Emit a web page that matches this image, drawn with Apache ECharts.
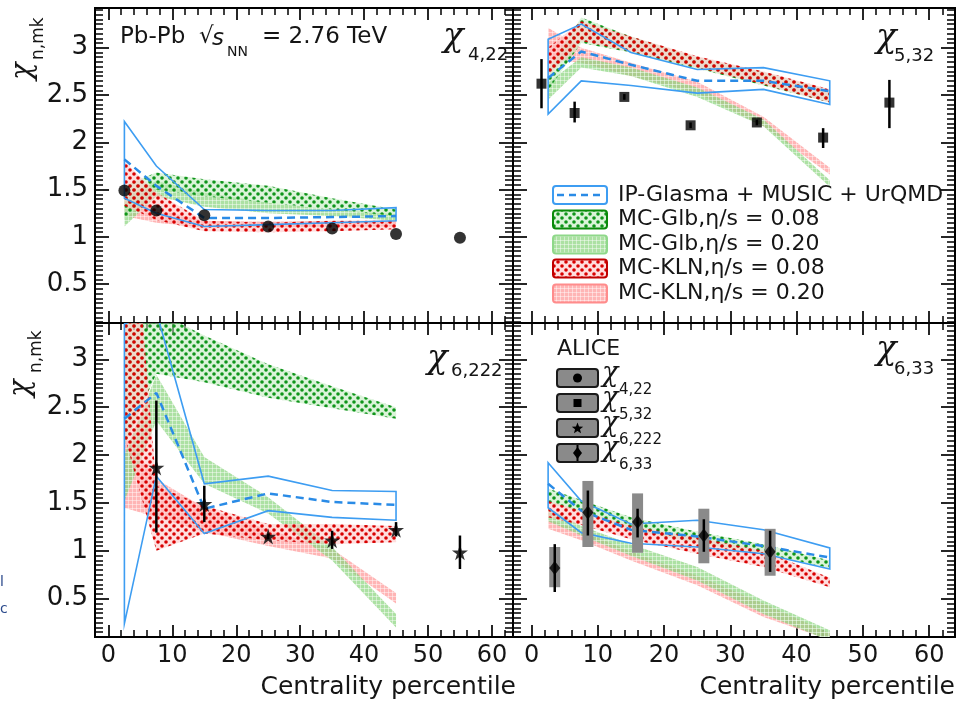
<!DOCTYPE html>
<html><head><meta charset="utf-8">
<script src="https://cdn.jsdelivr.net/npm/echarts@6/dist/echarts.min.js"></script>
<style>html,body{margin:0;padding:0;background:#fff}#c{width:961px;height:705px}</style>
</head><body><div id="c"></div>
<script>
// ---------------- DATA ----------------
const xTickLabels = [0, 10, 20, 30, 40, 50, 60];
const yTickLabels = [0.5, 1, 1.5, 2, 2.5, 3];
const bandX = [2.5, 7.5, 15, 25, 35, 45];

// chi_4,22
const p1_x = [2.5, 7.5, 15, 25, 35, 45, 55];
const p1_y = [1.49, 1.28, 1.23, 1.11, 1.09, 1.03, 0.99];
const p1_ipUp = [2.22, 1.75, 1.29, 1.28, 1.28, 1.31];
const p1_ipLo = [1.41, 1.25, 1.11, 1.13, 1.15, 1.17];
const p1_ipMid = [1.82, 1.54, 1.20, 1.20, 1.21, 1.22];
const p1_glb08Lo = [1.18, 1.50, 1.43, 1.36, 1.29, 1.22];
const p1_glb08Hi = [1.54, 1.68, 1.61, 1.54, 1.41, 1.29];
const p1_glb20Lo = [1.11, 1.43, 1.32, 1.25, 1.22, 1.17];
const p1_glb20Hi = [1.43, 1.59, 1.47, 1.36, 1.29, 1.24];
const p1_kln08Lo = [1.33, 1.18, 1.06, 1.05, 1.06, 1.08];
const p1_kln08Hi = [1.80, 1.47, 1.17, 1.15, 1.17, 1.17];
const p1_kln20Lo = [1.22, 1.15, 1.10, 1.10, 1.11, 1.11];
const p1_kln20Hi = [1.47, 1.29, 1.17, 1.16, 1.17, 1.17];

// chi_5,32
const p2_x = [1.5, 6.5, 14, 24, 34, 44, 54];
const p2_y = [2.62, 2.31, 2.48, 2.18, 2.21, 2.05, 2.42];
const p2_lo = [2.36, 2.21, 2.45, 2.15, 2.18, 1.94, 2.15];
const p2_hi = [2.88, 2.43, 2.51, 2.21, 2.24, 2.15, 2.66];
const p2_ipUp = [3.09, 3.25, 2.95, 2.77, 2.79, 2.65];
const p2_ipLo = [2.30, 2.65, 2.60, 2.52, 2.56, 2.40];
const p2_ipMid = [2.68, 2.96, 2.82, 2.65, 2.65, 2.54];
const p2_glb08Lo = [2.55, 3.05, 2.95, 2.78, 2.60, 2.42];
const p2_glb08Hi = [2.78, 3.32, 3.12, 2.90, 2.74, 2.55];
const p2_glb20Lo = [2.45, 2.79, 2.70, 2.48, 2.17, 1.53];
const p2_glb20Hi = [2.63, 2.90, 2.79, 2.58, 2.24, 1.60];
const p2_kln08Lo = [2.70, 3.07, 2.96, 2.79, 2.61, 2.42];
const p2_kln08Hi = [3.00, 3.28, 3.12, 2.91, 2.75, 2.56];
const p2_kln20Lo = [2.88, 2.84, 2.70, 2.52, 2.17, 1.66];
const p2_kln20Hi = [3.21, 3.00, 2.84, 2.64, 2.27, 1.73];

// chi_6,222
const p3_x = [7.5, 15, 25, 35, 45, 55];
const p3_y = [1.87, 1.49, 1.15, 1.11, 1.22, 0.985];
const p3_lo = [1.19, 1.30, 1.12, 1.02, 1.15, 0.81];
const p3_hi = [2.57, 1.68, 1.18, 1.21, 1.30, 1.16];
const p3_ipUp = [3.37, 3.50, 1.70, 1.78, 1.63, 1.62];
const p3_ipLo = [0.24, 1.78, 1.18, 1.42, 1.35, 1.32];
const p3_ipMid = [2.38, 2.65, 1.44, 1.60, 1.51, 1.48];
const p3_glb08Lo = [2.10, 2.85, 2.76, 2.60, 2.49, 2.38];
const p3_glb08Hi = [4.00, 3.50, 3.25, 2.95, 2.72, 2.50];
const p3_glb20Lo = [1.52, 2.36, 1.70, 1.39, 0.90, 0.20];
const p3_glb20Hi = [2.00, 2.84, 1.98, 1.56, 1.04, 0.34];
const p3_kln08Lo = [2.20, 1.00, 1.18, 1.11, 1.07, 1.09];
const p3_kln08Hi = [5.70, 1.68, 1.47, 1.28, 1.28, 1.26];
const p3_kln20Lo = [1.45, 1.35, 1.20, 1.05, 0.92, 0.45];
const p3_kln20Hi = [2.20, 1.75, 1.45, 1.22, 1.02, 0.56];

// chi_6,33
const p4_x = [3.5, 8.5, 16, 26, 36];
const p4_y = [0.82, 1.40, 1.30, 1.16, 0.99];
const p4_statLo = [0.57, 1.16, 1.14, 0.99, 0.78];
const p4_statHi = [1.07, 1.63, 1.44, 1.33, 1.21];
const p4_sysLo = [0.62, 1.04, 0.98, 0.87, 0.74];
const p4_sysHi = [1.04, 1.73, 1.60, 1.44, 1.23];
const p4_ipUp = [1.92, 1.52, 1.28, 1.32, 1.22, 1.03];
const p4_ipLo = [1.45, 1.19, 1.08, 1.04, 0.97, 0.81];
const p4_ipMid = [1.70, 1.42, 1.22, 1.15, 1.05, 0.93];
const p4_glb08Lo = [1.50, 1.40, 1.22, 1.08, 0.97, 0.82];
const p4_glb08Hi = [1.65, 1.53, 1.35, 1.20, 1.07, 0.90];
const p4_glb20Lo = [1.31, 1.16, 0.95, 0.69, 0.34, 0.06];
const p4_glb20Hi = [1.45, 1.26, 1.07, 0.83, 0.48, 0.17];
const p4_kln08Lo = [1.35, 1.27, 1.12, 0.97, 0.83, 0.62];
const p4_kln08Hi = [1.52, 1.42, 1.26, 1.14, 1.00, 0.72];
const p4_kln20Lo = [1.23, 1.11, 0.90, 0.64, 0.31, 0.07];
const p4_kln20Hi = [1.33, 1.21, 0.99, 0.74, 0.45, 0.14];

const legendLabels = ['IP-Glasma + MUSIC + UrQMD', 'MC-Glb,\u03b7/s = 0.08', 'MC-Glb,\u03b7/s = 0.20', 'MC-KLN,\u03b7/s = 0.08', 'MC-KLN,\u03b7/s = 0.20'];
const aliceLabels = ['4,22', '5,32', '6,222', '6,33'];

// ---------------- STYLE ----------------
const F = 'DejaVu Sans';
const CHI_FONT = 'italic 34px "DejaVu Serif"';
const BLUE = '#3d9df2', BLUED = '#2a8be6';
function pat(tile, bg, fn) {
  const c = document.createElement('canvas'); c.width = c.height = tile;
  const x = c.getContext('2d'); x.fillStyle = bg; x.fillRect(0, 0, tile, tile); fn(x, tile);
  return { image: c, repeat: 'repeat' };
}
function dots(col) { return (x) => { x.fillStyle = col; [[2, 2], [6, 6]].forEach(p => { x.beginPath(); x.arc(p[0], p[1], 1.8, 0, 7); x.fill(); }); }; }
function grid4(x, t) { x.fillStyle = 'rgba(255,255,255,0.45)'; x.fillRect(0, 0, t, 1); x.fillRect(0, 0, 1, t); }
const PAT = {
  glb08: pat(8, 'rgba(190,235,185,0.55)', dots('#0f951a')),
  kln08: pat(8, 'rgba(255,195,195,0.55)', dots('#d80000')),
  glb20: pat(4, 'rgba(140,214,128,0.72)', grid4),
  kln20: pat(4, 'rgba(255,150,150,0.7)', grid4)
};

const grids = [
  { left: 95, top: 8, width: 418, height: 315, xr: [-2.1, 63.3], yr: [0.09, 3.42], xl: false, yl: true },
  { left: 513, top: 8, width: 442, height: 315, xr: [-2.8, 63.9], yr: [0.09, 3.42], xl: false, yl: false },
  { left: 95, top: 323, width: 418, height: 314, xr: [-2.1, 63.3], yr: [0.10, 3.38], xl: true, yl: true },
  { left: 513, top: 323, width: 442, height: 314, xr: [-2.8, 63.9], yr: [0.10, 3.38], xl: true, yl: false }
];
const xMinor = []; for (let v = 2; v <= 62; v += 2) if (v % 10) xMinor.push(v);
const yMinorAll = []; for (let k = 2; k <= 68; k++) if (k % 10) yMinorAll.push(Math.round(k * 5) / 100);

const xAxes = [], yAxes = [];
grids.forEach((g, gi) => {
  const yMinor = yMinorAll.filter(v => v > g.yr[0] && v < g.yr[1]);
  const mk = (pos, vals, len, lab, fs, mg, w) => {
    const isY = pos === 'left' || pos === 'right';
    const ax = {
      type: 'value', gridIndex: gi, position: pos, min: isY ? g.yr[0] : g.xr[0], max: isY ? g.yr[1] : g.xr[1],
      axisLine: { show: true, onZero: false, lineStyle: { color: '#000', width: 2 } },
      axisTick: { show: true, inside: true, length: len, customValues: vals, lineStyle: { color: '#000', width: w } },
      axisLabel: { show: lab, fontFamily: F, fontSize: fs, color: '#151515', margin: mg },
      splitLine: { show: false }, axisPointer: { show: false }
    };
    if (lab) ax.axisLabel.customValues = vals;
    return ax;
  };
  // major axes (4g, 4g+1) then minor-tick axes (4g+2, 4g+3)
  xAxes.push(mk('bottom', xTickLabels, 12, g.xl, 24, 7, 1.7));
  xAxes.push(mk('top', xTickLabels, 12, false, 24, 7, 1.7));
  xAxes.push(mk('bottom', xMinor, 7, false, 24, 7, 1.5));
  xAxes.push(mk('top', xMinor, 7, false, 24, 7, 1.5));
  yAxes.push(mk('left', yTickLabels, 14, g.yl, 26, 7, 1.7));
  yAxes.push(mk('right', yTickLabels, 14, false, 26, 7, 1.7));
  yAxes.push(mk('left', yMinor, 8, false, 26, 7, 1.5));
  yAxes.push(mk('right', yMinor, 8, false, 26, 7, 1.5));
});

// ---------------- SERIES ----------------
function polyRender(style) {
  return function (params, api) {
    if (params.dataIndexInside !== 0) return null;
    const n = params.dataInsideLength, up = [], dn = [];
    for (let i = 0; i < n; i++) {
      const x = api.value(0, i);
      up.push(api.coord([x, api.value(2, i)]));
      dn.unshift(api.coord([x, api.value(1, i)]));
    }
    return { type: 'polygon', shape: { points: up.concat(dn) }, style: style };
  };
}
function band(g, lo, hi, style, z) {
  return { type: 'custom', xAxisIndex: 4 * g, yAxisIndex: 4 * g, clip: true, silent: true, z: z,
    data: bandX.map((x, i) => [x, lo[i], hi[i]]), renderItem: polyRender(style) };
}
function ipModel(g, up, lo, mid) {
  return [
    band(g, lo, up, { fill: 'none', stroke: BLUE, lineWidth: 1.6 }, 4),
    { type: 'line', xAxisIndex: 4 * g, yAxisIndex: 4 * g, clip: true, silent: true, z: 4, symbol: 'none',
      data: bandX.map((x, i) => [x, mid[i]]), lineStyle: { color: BLUED, width: 2.5, type: [8, 5] } }
  ];
}
function errBars(g, xs, lo, hi, w) {
  return { type: 'custom', xAxisIndex: 4 * g, yAxisIndex: 4 * g, clip: true, silent: true, z: 6,
    data: xs.map((x, i) => [x, lo[i], hi[i]]),
    renderItem: (p, api) => {
      const a = api.coord([api.value(0), api.value(1)]), b = api.coord([api.value(0), api.value(2)]);
      return { type: 'line', shape: { x1: a[0], y1: a[1], x2: b[0], y2: b[1] }, style: { stroke: '#000', lineWidth: w } };
    } };
}
function sysBoxes(g, xs, lo, hi) {
  return { type: 'custom', xAxisIndex: 4 * g, yAxisIndex: 4 * g, clip: true, silent: true, z: 5,
    data: xs.map((x, i) => [x, lo[i], hi[i]]),
    renderItem: (p, api) => {
      const a = api.coord([api.value(0), api.value(1)]), b = api.coord([api.value(0), api.value(2)]);
      return { type: 'rect', shape: { x: a[0] - 5.5, y: b[1], width: 11, height: a[1] - b[1] }, style: { fill: '#8a8a8a' } };
    } };
}
function pts(g, xs, ys, symbol, size) {
  return { type: 'scatter', xAxisIndex: 4 * g, yAxisIndex: 4 * g, silent: true, z: 7, symbol: symbol, symbolSize: size,
    data: xs.map((x, i) => [x, ys[i]]), itemStyle: { color: '#000' } };
}
function models(g, d) {
  return [
    band(g, d.kln20[0], d.kln20[1], { fill: PAT.kln20 }, 2),
    band(g, d.glb20[0], d.glb20[1], { fill: PAT.glb20 }, 2),
    band(g, d.glb08[0], d.glb08[1], { fill: PAT.glb08 }, 3),
    band(g, d.kln08[0], d.kln08[1], { fill: PAT.kln08 }, 3)
  ].concat(ipModel(g, d.ip[0], d.ip[1], d.ip[2]));
}
const STAR = 'path://M50,0 L61,35 L98,35 L68,57 L79,91 L50,70 L21,91 L32,57 L2,35 L39,35 Z';

const series = [].concat(
  models(0, { kln20: [p1_kln20Lo, p1_kln20Hi], glb20: [p1_glb20Lo, p1_glb20Hi], glb08: [p1_glb08Lo, p1_glb08Hi], kln08: [p1_kln08Lo, p1_kln08Hi], ip: [p1_ipUp, p1_ipLo, p1_ipMid] }),
  [pts(0, p1_x, p1_y, 'circle', 12)],
  models(1, { kln20: [p2_kln20Lo, p2_kln20Hi], glb20: [p2_glb20Lo, p2_glb20Hi], glb08: [p2_glb08Lo, p2_glb08Hi], kln08: [p2_kln08Lo, p2_kln08Hi], ip: [p2_ipUp, p2_ipLo, p2_ipMid] }),
  [errBars(1, p2_x, p2_lo, p2_hi, 2.5), pts(1, p2_x, p2_y, 'rect', 10)],
  models(2, { kln20: [p3_kln20Lo, p3_kln20Hi], glb20: [p3_glb20Lo, p3_glb20Hi], glb08: [p3_glb08Lo, p3_glb08Hi], kln08: [p3_kln08Lo, p3_kln08Hi], ip: [p3_ipUp, p3_ipLo, p3_ipMid] }),
  [errBars(2, p3_x, p3_lo, p3_hi, 2.5), pts(2, p3_x, p3_y, STAR, 16)],
  models(3, { kln20: [p4_kln20Lo, p4_kln20Hi], glb20: [p4_glb20Lo, p4_glb20Hi], glb08: [p4_glb08Lo, p4_glb08Hi], kln08: [p4_kln08Lo, p4_kln08Hi], ip: [p4_ipUp, p4_ipLo, p4_ipMid] }),
  [sysBoxes(3, p4_x, p4_sysLo, p4_sysHi), errBars(3, p4_x, p4_statLo, p4_statHi, 2.5), pts(3, p4_x, p4_y, 'diamond', [11, 14])]
);

// ---------------- TEXT / LEGENDS ----------------
function T(x, y, text, size, extra) {
  return Object.assign({ type: 'text', x: x, y: y, silent: true, z: 20,
    style: Object.assign({ text: text, font: size + 'px "' + F + '"', fill: '#151515', align: 'left', verticalAlign: 'middle' }, extra || {}) });
}
function chi(x, y, sub, subX, subY, subSize, font) {
  return [T(x, y, '\u03c7', 0, { font: font || CHI_FONT }), T(subX, subY, sub, subSize)];
}
const gfx = [];
// y-axis titles (rotated)
[[33, 79, 19], [31, 396, 23]].forEach(a => {
  gfx.push({ type: 'group', x: a[0], y: a[1], rotation: Math.PI / 2, silent: true, z: 20, children: [
    { type: 'text', x: -1, y: -10, style: { text: '\u03c7', font: 'italic 29px "DejaVu Serif"', fill: '#151515', verticalAlign: 'middle' } },
    { type: 'text', x: a[2], y: 6, style: { text: 'n,mk', font: '17px "' + F + '"', fill: '#151515', verticalAlign: 'middle' } }
  ] });
});
// x-axis titles
gfx.push(T(516, 687, 'Centrality percentile', 25, { align: 'right' }));
gfx.push(T(955, 687, 'Centrality percentile', 25, { align: 'right' }));
// energy label
gfx.push(T(120, 37, 'Pb-Pb', 23));
gfx.push(T(199, 37, '\u221a', 23));
gfx.push(T(212, 39, 's', 23, { font: 'italic 23px "' + F + '"' }));
gfx.push(T(227, 52, 'NN', 14));
gfx.push(T(262, 37, '= 2.76 TeV', 23));
// panel labels
gfx.push(...chi(443, 37, '4,22', 468, 55, 18));
gfx.push(...chi(876, 38, '5,32', 894, 56, 18));
gfx.push(...chi(427, 359, '6,222', 451, 371, 18));
gfx.push(...chi(876, 350, '6,33', 894, 369, 18));
// model legend (panel 2)
const legRows = [195, 219.5, 244.5, 268.5, 293.5];
const legFills = [null, PAT.glb08, PAT.glb20, PAT.kln08, PAT.kln20];
const legStrokes = [BLUE, '#0a8a0a', '#8fd88a', '#c00000', '#ff8c8c'];
legRows.forEach((ry, i) => {
  gfx.push({ type: 'rect', silent: true, z: 20, shape: { x: 553, y: ry - 9, width: 54, height: 18, r: 3 },
    style: { fill: legFills[i] || '#fff', stroke: legStrokes[i], lineWidth: 2 } });
  if (i === 0) gfx.push({ type: 'line', silent: true, z: 21, shape: { x1: 557, y1: ry, x2: 604, y2: ry },
    style: { stroke: BLUED, lineWidth: 2.5, lineDash: [7, 5] } });
  gfx.push(T(618, ry, legendLabels[i], 22));
});
// ALICE legend (panel 4)
gfx.push(T(557, 349, 'ALICE', 22));
const aRows = [378, 403, 428, 453];
aRows.forEach((ry, i) => {
  gfx.push({ type: 'rect', silent: true, z: 20, shape: { x: 557, y: ry - 9, width: 41, height: 18, r: 3 },
    style: { fill: '#8a8a8a', stroke: '#1a1a1a', lineWidth: 2 } });
  const cx = 577.5;
  let m;
  if (i === 0) m = { type: 'circle', shape: { cx: cx, cy: ry, r: 4.5 } };
  else if (i === 1) m = { type: 'rect', shape: { x: cx - 4, y: ry - 4, width: 8, height: 8 } };
  else if (i === 2) {
    const p = []; for (let k = 0; k < 10; k++) { const r = k % 2 ? 2.6 : 6, a = -Math.PI / 2 + k * Math.PI / 5; p.push([cx + r * Math.cos(a), ry + 0.5 + r * Math.sin(a)]); }
    m = { type: 'polygon', shape: { points: p } };
  } else {
    gfx.push({ type: 'line', silent: true, z: 21, shape: { x1: cx, y1: ry - 8, x2: cx, y2: ry + 8 }, style: { stroke: '#000', lineWidth: 2 } });
    m = { type: 'polygon', shape: { points: [[cx, ry - 6], [cx + 4.5, ry], [cx, ry + 6], [cx - 4.5, ry]] } };
  }
  m.silent = true; m.z = 22; m.style = { fill: '#000' };
  gfx.push(m);
  gfx.push(...chi(602, ry - 4, aliceLabels[i], 619, ry + 12, 15, 'italic 27px "DejaVu Serif"'));
});
// clipped side text fragments at far left
gfx.push(T(0, 582, 'l', 14, { fill: '#2b4a8c' }));
gfx.push(T(0, 609, 'c', 14, { fill: '#2b4a8c' }));

const chart = echarts.init(document.getElementById('c'), null, { renderer: 'canvas' });
chart.setOption({
  animation: false,
  backgroundColor: '#fff',
  grid: grids.map(g => ({ left: g.left, top: g.top, width: g.width, height: g.height, containLabel: false })),
  xAxis: xAxes,
  yAxis: yAxes,
  series: series,
  graphic: gfx
});
</script>
</body></html>
